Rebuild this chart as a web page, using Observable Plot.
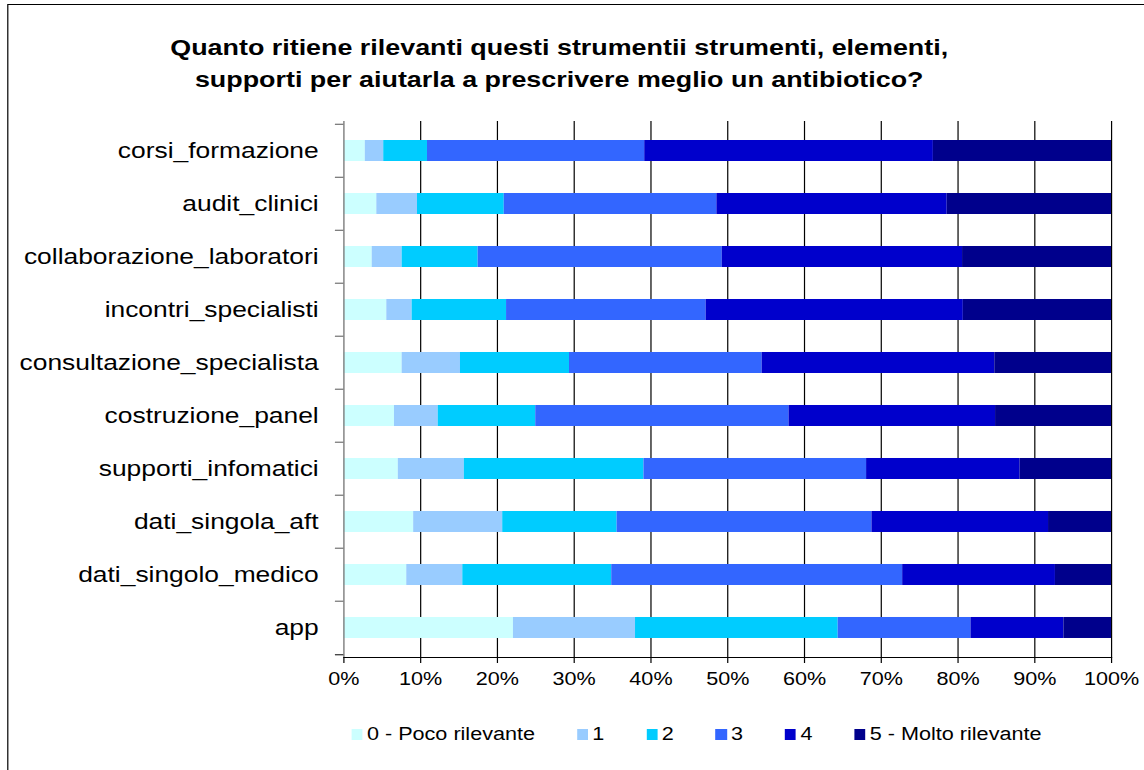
<!DOCTYPE html>
<html>
<head>
<meta charset="utf-8">
<script src="https://cdn.jsdelivr.net/npm/d3@7"></script>
<script src="https://cdn.jsdelivr.net/npm/@observablehq/plot@0.6"></script>
<style>
  html, body { margin: 0; padding: 0; background: #fff; width: 1144px; height: 770px; overflow: hidden; }
  #wrap { position: relative; width: 953.33px; height: 770px; transform: scale(1.2, 1); transform-origin: 0 0;
          font-family: "Liberation Sans", Arial, sans-serif; color: #000; }
  #border { position: absolute; left: 5.8px; top: 4px; width: 1200px; height: 1200px; border: 1px solid #000; }
  #title { position: absolute; top: 32px; left: 0; width: 932px; text-align: center; font-weight: bold;
           font-size: 22.4px; line-height: 32px; }
  #chart { position: absolute; top: 100px; left: 0; }
  #legend { position: absolute; top: 725px; left: 293px; display: flex; gap: 35px; font-size: 18px; line-height: 18px; white-space: nowrap; }
  .item { display: flex; align-items: center; gap: 3.6px; }
  .sw { width: 9.2px; height: 11px; display: inline-block; }
</style>
</head>
<body>
<div id="wrap">
  <div id="border"></div>
  <div id="title">Quanto ritiene rilevanti questi strumentii strumenti, elementi,<br>supporti per aiutarla a prescrivere meglio un antibiotico?</div>
  <div id="chart"></div>
  <div id="legend"></div>
</div>
<script>
const categories = ["corsi_formazione", "audit_clinici", "collaborazione_laboratori", "incontri_specialisti",
  "consultazione_specialista", "costruzione_panel", "supporti_infomatici", "dati_singola_aft",
  "dati_singolo_medico", "app"];
const levels = ["0 - Poco rilevante", "1", "2", "3", "4", "5 - Molto rilevante"];
const colors = ["#CCFFFF", "#99CCFF", "#00CCFF", "#3366FF", "#0000CC", "#00008C"];

const level0 = [2.8, 4.3, 3.7, 5.6, 7.6, 6.6, 7.1, 9.1, 8.2, 22.1];
const level1 = [2.4, 5.3, 3.9, 3.3, 7.6, 5.7, 8.6, 11.6, 7.3, 15.9];
const level2 = [5.7, 11.3, 9.9, 12.3, 14.2, 12.7, 23.4, 14.9, 19.4, 26.4];
const level3 = [28.3, 27.7, 31.8, 26.0, 25.1, 33.0, 29.0, 33.2, 37.9, 17.3];
const level4 = [37.6, 30.0, 31.3, 33.5, 30.3, 26.9, 20.0, 23.0, 19.9, 12.1];
const level5 = [23.2, 21.4, 19.4, 19.3, 15.2, 15.1, 11.9, 8.2, 7.3, 6.2];
const xTicks = [0, 0.1, 0.2, 0.3, 0.4, 0.5, 0.6, 0.7, 0.8, 0.9, 1];

const series = [level0, level1, level2, level3, level4, level5];
const rows = [];
categories.forEach((c, i) => {
  series.forEach((s, j) => rows.push({category: c, level: levels[j], value: s[i]}));
});

const W = 1144 / 1.2, H = 610;
const mt = 21, mb = 53, ml = 343.3 / 1.2, mr = W - 1111 / 1.2;
const step = (H - mt - mb) / categories.length;

const chart = Plot.plot({
  width: W,
  height: H,
  marginTop: mt,
  marginBottom: mb,
  marginLeft: ml,
  marginRight: mr,
  style: {fontFamily: "'Liberation Sans', Arial, sans-serif", fontSize: "18px", color: "#000", background: "transparent"},
  x: {domain: [0, 1], axis: null},
  y: {domain: categories, paddingInner: 0.61, paddingOuter: 0.305, axis: null},
  color: {domain: levels, range: colors},
  marks: [
    Plot.ruleX(xTicks.slice(1), {stroke: "#000", strokeWidth: 1}),
    Plot.barX(rows, Plot.stackX({x: "value", y: "category", fill: "level", offset: "normalize", order: levels})),
    Plot.ruleX([0], {stroke: "#808080", strokeWidth: 1.2}),
    Plot.frame({anchor: "bottom", stroke: "#000"}),
    Plot.axisX({ticks: xTicks, tickFormat: d3.format(".0%"), tickSize: 6, tickPadding: 9, fontSize: 18, label: null, stroke: "#000"}),
    Plot.axisY({ticks: categories, tickSize: 0, tickPadding: 21, fontSize: 22, label: null}),
    Plot.axisY({ticks: categories, tickSize: 7, tickFormat: () => "", dy: -step / 2, stroke: "#555", label: null}),
    Plot.axisY({ticks: [categories[categories.length - 1]], tickSize: 7, tickFormat: () => "", dy: step / 2, stroke: "#000", label: null})
  ]
});
document.getElementById("chart").appendChild(chart);

const legend = document.getElementById("legend");
levels.forEach((l, i) => {
  const item = document.createElement("div");
  item.className = "item";
  const sw = document.createElement("span");
  sw.className = "sw";
  sw.style.background = colors[i];
  const tx = document.createElement("span");
  tx.textContent = l;
  item.appendChild(sw);
  item.appendChild(tx);
  legend.appendChild(item);
});
</script>
</body>
</html>
